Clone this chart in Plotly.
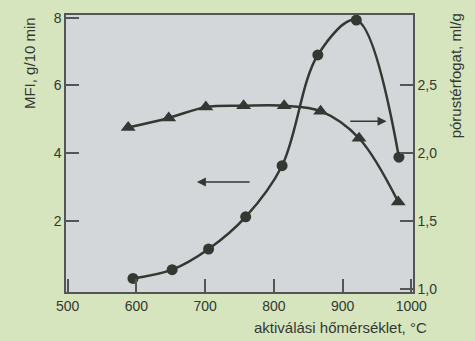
import plotly.graph_objects as go

# MFI (left axis), circles
mfi_x = [595, 652, 705, 759, 812, 864, 920, 982]
mfi_y = [0.30, 0.56, 1.17, 2.12, 3.63, 6.90, 7.93, 3.88]

# pore volume (right axis), triangles
pv_x = [588, 647, 701, 756, 815, 868, 924, 981]
pv_y = [2.19, 2.26, 2.34, 2.35, 2.35, 2.31, 2.11, 1.64]

x_ticks = [500, 600, 700, 800, 900, 1000]
left_ticks = [2, 4, 6, 8]
right_ticks = [1.0, 1.5, 2.0, 2.5]
right_labels = ["1,0", "1,5", "2,0", "2,5"]

ink = "#333833"
font = "Liberation Sans, Arial, sans-serif"

fig = go.Figure()
fig.add_trace(go.Scatter(
    x=mfi_x, y=mfi_y, mode="lines+markers",
    line=dict(color=ink, width=2.5, shape="spline", smoothing=1.0),
    marker=dict(symbol="circle", size=11, color=ink),
    yaxis="y", showlegend=False, cliponaxis=False))
fig.add_trace(go.Scatter(
    x=pv_x, y=pv_y, mode="lines+markers",
    line=dict(color=ink, width=2.5, shape="spline", smoothing=1.0),
    marker=dict(symbol="triangle-up", size=13, color=ink),
    yaxis="y2", showlegend=False, cliponaxis=False))

axis_common = dict(showline=True, linecolor="#555555", linewidth=1.5,
                   ticks="inside", ticklen=13, tickcolor="#555555", tickwidth=1.5,
                   showgrid=False, zeroline=False,
                   tickfont=dict(family=font, size=14, color=ink))

fig.update_layout(
    width=475, height=341,
    margin=dict(l=66, r=62, t=10, b=49),
    paper_bgcolor="#d6e5bd",
    plot_bgcolor="#d4d7da",
    xaxis=dict(range=[497.5, 1002.5], tickvals=x_ticks, mirror=True, **axis_common),
    yaxis=dict(range=[-0.1, 8.08], tickvals=left_ticks, **axis_common),
    yaxis2=dict(range=[0.975, 3.02], tickvals=right_ticks, ticktext=right_labels,
                overlaying="y", side="right", **axis_common),
    font=dict(family=font, color=ink),
)

fig.add_annotation(text="MFI, g/10 min", xref="paper", yref="paper",
                   x=-0.105, y=0.825, textangle=-90, showarrow=False,
                   font=dict(size=15, family=font, color=ink), xanchor="center", yanchor="middle")
fig.add_annotation(text="pórustérfogat, ml/g", xref="paper", yref="paper",
                   x=1.125, y=0.78, textangle=-90, showarrow=False,
                   font=dict(size=15, family=font, color=ink), xanchor="center", yanchor="middle")
fig.add_annotation(text="aktiválási hőmérséklet, °C", xref="paper", yref="paper",
                   x=1.045, y=-0.128, showarrow=False,
                   font=dict(size=15, family=font, color=ink), xanchor="right", yanchor="middle")

# direction arrows
fig.add_annotation(x=688, y=3.15, ax=767, ay=3.15, xref="x", yref="y", axref="x", ayref="y",
                   showarrow=True, arrowhead=2, arrowsize=1.2, arrowwidth=1.5, arrowcolor=ink, text="")
fig.add_annotation(x=964, y=4.94, ax=909, ay=4.94, xref="x", yref="y", axref="x", ayref="y",
                   showarrow=True, arrowhead=2, arrowsize=1.2, arrowwidth=1.5, arrowcolor=ink, text="")

fig.write_html("out.html")
